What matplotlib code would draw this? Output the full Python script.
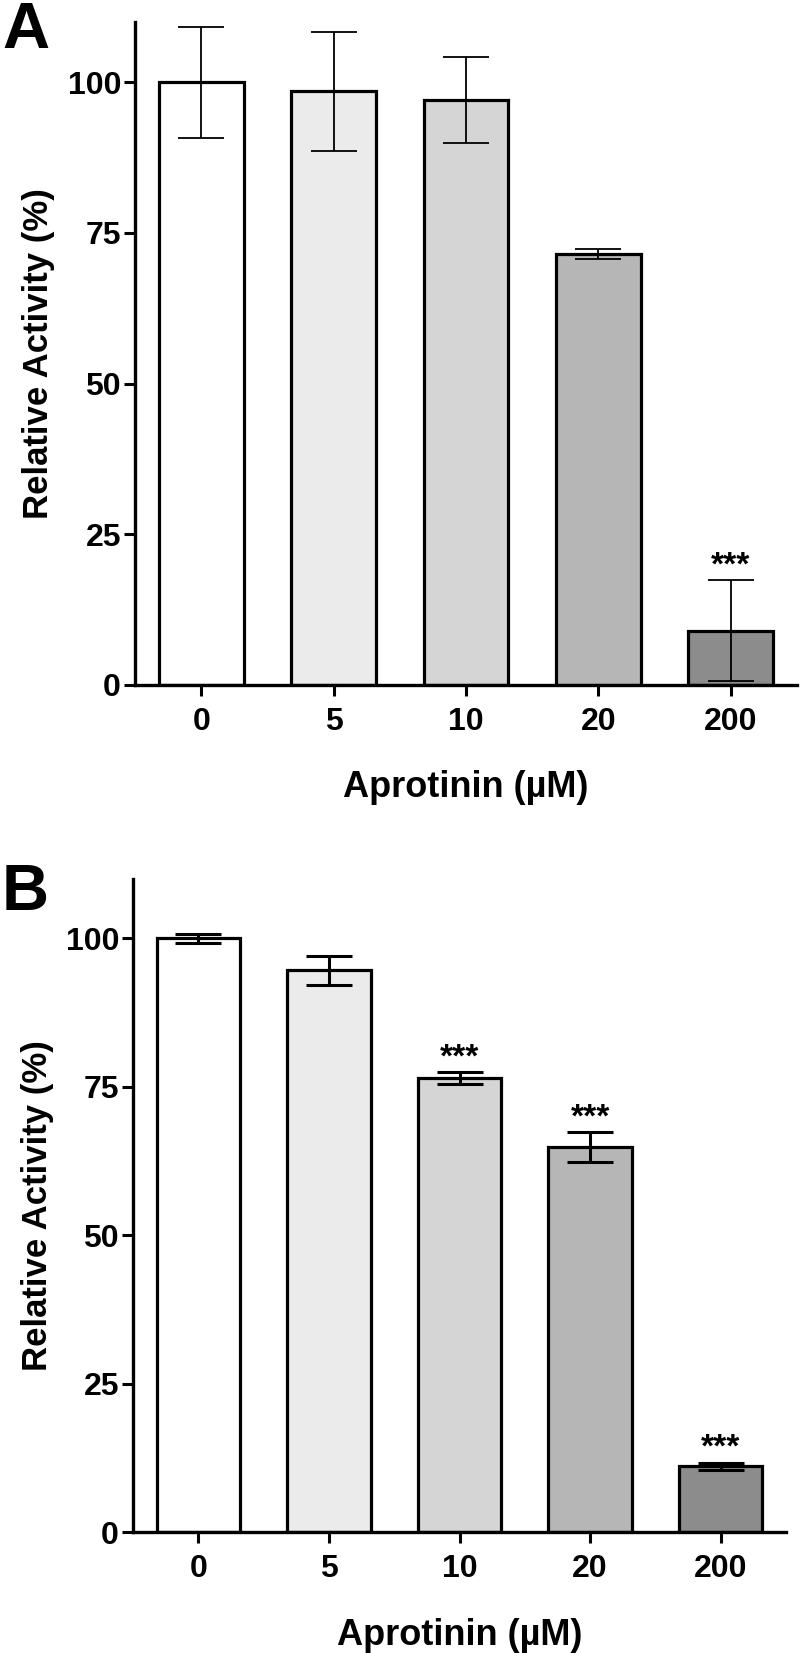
import matplotlib
matplotlib.use("Agg")
import matplotlib.pyplot as plt

plt.rcParams['font.family'] = ['Liberation Sans', 'DejaVu Sans']
plt.rcParams['font.weight'] = 'bold'

# Data
doses = ['0', '5', '10', '20', '200']
colors = ['#ffffff', '#ebebeb', '#d5d5d5', '#b6b6b6', '#8c8c8c']

mean_a = [100.0, 98.5, 97.1, 71.5, 9.0]
err_a = [9.2, 9.9, 7.1, 0.8, 8.4]
stars_a = ['', '', '', '', '***']

mean_b = [100.0, 94.6, 76.5, 64.8, 11.1]
err_b = [0.7, 2.5, 1.0, 2.5, 0.6]
stars_b = ['', '', '***', '***', '***']

yticks = [0, 25, 50, 75, 100]


def draw_panel(ax, means, errs, stars, err_lw, xlab_y):
    x = range(len(doses))
    ax.bar(x, means, width=0.64, color=colors, edgecolor='black', linewidth=2.3, zorder=2)
    ax.errorbar(x, means, yerr=errs, fmt='none', ecolor='black', elinewidth=err_lw,
                capsize=16.5, capthick=err_lw, zorder=3)
    for i, s in enumerate(stars):
        if s:
            ax.annotate(s, (i, means[i] + errs[i]), xytext=(0, 4), textcoords='offset points',
                        ha='center', va='baseline', fontsize=24, fontweight='bold')
    ax.set_xlim(-0.5, 4.5)
    ax.set_ylim(0, 110)
    ax.set_xticks(list(x))
    ax.set_xticklabels(doses)
    ax.set_yticks(yticks)
    ax.spines['top'].set_visible(False)
    ax.spines['right'].set_visible(False)
    ax.spines['left'].set_linewidth(2.4)
    ax.spines['bottom'].set_linewidth(2.4)
    ax.tick_params(axis='both', width=2.2, length=8, labelsize=23)
    ax.tick_params(axis='x', pad=8)
    ax.tick_params(axis='y', pad=2)
    ax.set_ylabel('Relative Activity (%)', fontsize=25, fontweight='bold')
    ax.set_xlabel('Aprotinin (\u00b5M)', fontsize=26, fontweight='bold')
    ax.yaxis.set_label_coords(-0.121, 0.5)
    ax.xaxis.set_label_coords(0.5, xlab_y)


W, H = 800, 1653
fig = plt.figure(figsize=(W / 100, H / 100), dpi=100)

ax_a = fig.add_axes([135 / W, 1 - 685 / H, (797 - 135) / W, (685 - 22) / H])
draw_panel(ax_a, mean_a, err_a, stars_a, 1.3, -0.128)

ax_b = fig.add_axes([133 / W, 1 - 1532 / H, (786 - 133) / W, (1532 - 879) / H])
draw_panel(ax_b, mean_b, err_b, stars_b, 2.2, -0.132)

fig.text(2 / W, 1 - 48 / H, 'A', fontsize=47, fontweight='bold', ha='left', va='baseline')
fig.text(2 / W, 1 - 910 / H, 'B', fontsize=47, fontweight='bold', ha='left', va='baseline')

fig.savefig('out.png', dpi=100)
